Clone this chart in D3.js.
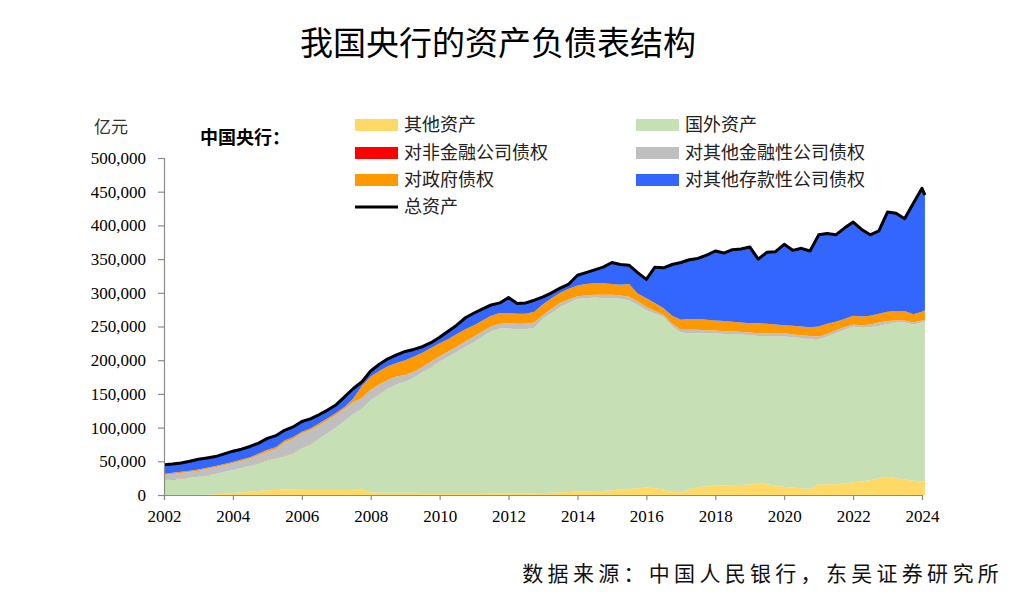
<!DOCTYPE html>
<html>
<head>
<meta charset="utf-8">
<script src="https://cdn.jsdelivr.net/npm/d3@7"></script>
<style>
  body { margin: 0; background: #fff; }
  svg { display: block; }
</style>
</head>
<body>
<svg width="1031" height="613"></svg>
<script>
// quarterly points, Mar 2002 .. Dec 2023, then Feb 2024 (亿元)
var dates = d3.range(88).map(function (i) { return new Date(2002, i * 3, 1); })
  .concat([new Date(2024, 0, 1), new Date(2024, 1, 1)]);

var seriesNames = ["其他资产", "国外资产", "对非金融公司债权", "对其他金融性公司债权", "对政府债权", "对其他存款性公司债权"];

var otherAssets = [
  0, 0, 0, 0, 0, 500, 1000, 2000, 3000, 4000,
  5000, 6000, 7000, 7500, 8000, 8500, 9000, 9000, 9000, 9000,
  9000, 9000, 9000, 8500, 4000, 3500, 3500, 3500, 3500, 3500,
  3000, 3000, 3000, 3000, 3000, 3000, 3000, 3000, 2500, 2500,
  2000, 2000, 2000, 2500, 3000, 3500, 4000, 4500, 5000, 5000,
  6000, 6000, 7000, 8000, 9000, 10000, 11000, 10000, 8000, 5000,
  4000, 8000, 12000, 13000, 14000, 14000, 15000, 15000, 16000, 18000,
  16000, 14000, 12000, 11000, 10000, 9000, 16000, 16000, 16000, 17000,
  19000, 20000, 22000, 25000, 27000, 25000, 23000, 21000, 20000, 20000
];
var foreignAssets = [
  22000, 23000, 24500, 25500, 27000, 28500, 30000, 32000, 34000, 36000,
  38000, 41500, 45000, 47500, 50000, 53500, 60000, 66000, 74000, 83000,
  91000, 101000, 111000, 119500, 137000, 146500, 154500, 160500, 164500, 170500,
  179000, 187000, 195000, 202000, 209000, 217000, 224000, 232000, 240500, 244500,
  245000, 244000, 244000, 245500, 259000, 266500, 275000, 280500, 286000, 287000,
  287000, 286000, 285000, 283000, 280000, 272000, 263000, 259000, 256000, 245000,
  237000, 232000, 228000, 227000, 226000, 225000, 224000, 223000, 221000, 218000,
  220000, 221000, 223000, 223000, 223000, 223000, 215000, 219000, 224000, 228000,
  231000, 228000, 227000, 227000, 228000, 231000, 233000, 232000, 236000, 237000
];
var nonFinClaims = [
  200, 200, 200, 200, 200, 200, 200, 200, 200, 200,
  200, 200, 200, 200, 200, 200, 150, 150, 150, 150,
  150, 150, 150, 150, 100, 100, 100, 100, 100, 100,
  100, 100, 100, 100, 100, 100, 100, 100, 100, 100,
  50, 50, 50, 50, 50, 50, 50, 50, 50, 50,
  50, 50, 50, 50, 50, 50, 50, 50, 50, 50,
  50, 50, 50, 50, 50, 50, 50, 50, 50, 50,
  50, 50, 50, 50, 50, 50, 50, 50, 50, 50,
  50, 50, 50, 50, 50, 50, 50, 50, 50, 50
];
var otherFinClaims = [
  7300, 7800, 7800, 8300, 8800, 9300, 9800, 9800, 9800, 10300,
  10800, 11300, 11800, 12800, 19800, 20800, 22350, 20850, 19850, 18850,
  18850, 17850, 17850, 15850, 14900, 13900, 12900, 11900, 9900, 8900,
  7900, 7900, 7900, 7900, 7900, 7900, 7900, 7900, 6900, 6900,
  7950, 7950, 7950, 7950, 4950, 5950, 5950, 4950, 3950, 3950,
  3950, 4950, 4950, 4950, 4950, 4950, 4950, 3950, 2950, 3950,
  3950, 4950, 4950, 3950, 3950, 3950, 3950, 3950, 3950, 3950,
  3950, 4950, 4950, 3950, 3950, 3950, 3950, 3950, 3950, 3950,
  2950, 3950, 3950, 3950, 2950, 2950, 2950, 2950, 2950, 2950
];
var govClaims = [
  1500, 2000, 2000, 2000, 2000, 2000, 2000, 2000, 2000, 2000,
  2000, 2500, 3000, 3000, 3000, 3000, 2500, 2500, 3000, 3000,
  3000, 3000, 5000, 18000, 20000, 20000, 20000, 20000, 22000, 22000,
  21000, 20000, 19000, 18000, 19000, 18000, 17000, 16000, 16000, 16000,
  15000, 15000, 15000, 16000, 16000, 16000, 15000, 16000, 16000, 17000,
  17000, 17000, 16000, 16000, 19000, 12000, 13000, 12000, 10000, 12000,
  15000, 16000, 16000, 16000, 15000, 15000, 14000, 14000, 14000, 15000,
  14000, 13000, 12000, 13000, 13000, 13000, 15000, 15000, 13000, 12000,
  13000, 13000, 13000, 13000, 14000, 14000, 14000, 12000, 13000, 14000
];
var bankClaims = [
  14000, 13000, 13000, 14000, 15000, 14500, 14000, 15000, 16000, 15500,
  16000, 15500, 17000, 17000, 15000, 15000, 15000, 14500, 13000, 12000,
  12000, 15000, 15000, 6000, 8000, 10000, 11000, 12000, 13000, 11000,
  9000, 8000, 9000, 12000, 13000, 17000, 18000, 17000, 16000, 15000,
  23000, 15000, 16000, 17000, 11000, 8000, 7000, 7000, 15000, 17000,
  20000, 24000, 32000, 30000, 28000, 31000, 28000, 53000, 60000, 76000,
  85000, 88000, 90000, 96000, 103000, 101000, 107000, 109000, 113000, 95000,
  106000, 108000, 120000, 112000, 116000, 113000, 136000, 134000, 129000, 135000,
  139000, 129000, 120000, 123000, 148000, 145000, 137000, 165000, 183000, 171000
];

var yTicks = [0, 50000, 100000, 150000, 200000, 250000, 300000, 350000, 400000, 450000, 500000];
var xTickYears = [2002, 2004, 2006, 2008, 2010, 2012, 2014, 2016, 2018, 2020, 2022, 2024];

var colors = ["#FFD966", "#C6DFB5", "#FF0000", "#BFBFBF", "#FF9900", "#3366FF"];

var cjk = "'Noto Sans CJK SC', sans-serif";
var serif = "'Liberation Serif', 'Times New Roman', serif";

var svg = d3.select("svg");

var data = dates.map(function (d, i) {
  return {
    date: d,
    s0: otherAssets[i],
    s1: foreignAssets[i],
    s2: nonFinClaims[i],
    s3: otherFinClaims[i],
    s4: govClaims[i],
    s5: bankClaims[i]
  };
});
var keys = ["s0", "s1", "s2", "s3", "s4", "s5"];

var x = d3.scaleTime()
  .domain([new Date(2002, 0, 1), new Date(2024, 0, 1)])
  .range([164, 922]);
var y = d3.scaleLinear().domain([0, 500000]).range([495, 158]);

var stacked = d3.stack().keys(keys)(data);

var area = d3.area()
  .x(function (d) { return x(d.data.date); })
  .y0(function (d) { return y(d[0]); })
  .y1(function (d) { return y(d[1]); });

svg.append("g")
  .selectAll("path")
  .data(stacked)
  .enter()
  .append("path")
  .attr("d", area)
  .attr("fill", function (d, i) { return colors[i]; });

// total assets line = top of the stack
var topLayer = stacked[stacked.length - 1];
svg.append("path")
  .datum(topLayer)
  .attr("fill", "none")
  .attr("stroke", "#000")
  .attr("stroke-width", 3)
  .attr("stroke-linejoin", "round")
  .attr("d", d3.line()
    .x(function (d) { return x(d.data.date); })
    .y(function (d) { return y(d[1]); }));

// axes
var yAxis = svg.append("g")
  .attr("transform", "translate(164,0)")
  .call(d3.axisLeft(y).tickValues(yTicks).tickSize(6).tickPadding(12)
    .tickFormat(d3.format(",")));
var xAxis = svg.append("g")
  .attr("transform", "translate(0,495)")
  .call(d3.axisBottom(x)
    .tickValues(xTickYears.map(function (yr) { return new Date(yr, 0, 1); }))
    .tickSize(5).tickPadding(10)
    .tickFormat(d3.timeFormat("%Y")));

[yAxis, xAxis].forEach(function (ax) {
  ax.select(".domain").attr("stroke", "#8c8c8c").attr("stroke-width", 1.2);
  ax.selectAll(".tick line").attr("stroke", "#8c8c8c").attr("stroke-width", 1.2);
  ax.selectAll(".tick text")
    .attr("font-family", serif)
    .attr("font-size", "17px")
    .attr("fill", "#000");
});

// title & labels
svg.append("text")
  .attr("x", 498).attr("y", 55)
  .attr("text-anchor", "middle")
  .attr("font-family", cjk)
  .attr("font-size", "33px")
  .attr("fill", "#000")
  .text("我国央行的资产负债表结构");

svg.append("text")
  .attr("x", 94).attr("y", 133)
  .attr("font-family", cjk)
  .attr("font-size", "17px")
  .attr("fill", "#333")
  .text("亿元");

svg.append("text")
  .attr("x", 200).attr("y", 144)
  .attr("font-family", cjk)
  .attr("font-size", "18px")
  .attr("font-weight", "bold")
  .attr("fill", "#000")
  .text("中国央行：");

// legend: 其他资产 / 国外资产, 对非金融 / 对其他金融, 对政府 / 对其他存款, 总资产
var legendItems = seriesNames.map(function (n, i) { return { name: n, color: colors[i], type: "area" }; });
legendItems.push({ name: "总资产", color: "#000", type: "line" });
var legendPos = [[355, 125], [636, 125], [355, 153], [636, 153], [355, 180], [636, 180], [355, 207]];
var legend = svg.append("g")
  .selectAll("g")
  .data(legendItems)
  .enter()
  .append("g")
  .attr("transform", function (d, i) { return "translate(" + legendPos[i][0] + "," + legendPos[i][1] + ")"; });

legend.filter(function (d) { return d.type === "area"; })
  .append("rect")
  .attr("x", 0).attr("y", -6)
  .attr("width", 43).attr("height", 12)
  .attr("fill", function (d) { return d.color; });
legend.filter(function (d) { return d.type === "line"; })
  .append("line")
  .attr("x1", 0).attr("x2", 43)
  .attr("stroke", "#000").attr("stroke-width", 3);

legend.append("text")
  .attr("x", 49).attr("y", 0)
  .attr("dy", "0.35em")
  .attr("font-family", cjk)
  .attr("font-size", "18px")
  .attr("fill", "#222")
  .text(function (d) { return d.name; });

svg.append("text")
  .attr("x", 1003).attr("y", 581)
  .attr("text-anchor", "end")
  .attr("font-family", cjk)
  .attr("font-size", "21px")
  .attr("letter-spacing", "4.3px")
  .attr("fill", "#111")
  .text("数据来源：中国人民银行，东吴证券研究所");
</script>
</body>
</html>
